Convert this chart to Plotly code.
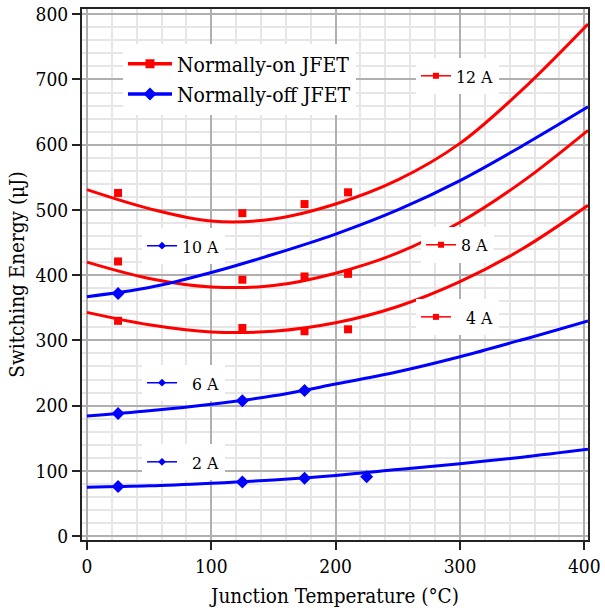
import plotly.graph_objects as go

# ---- data ----
T_fit = [0, 50, 100, 150, 200, 250, 300, 350, 403]
on_12A_fit = [531, 502, 483, 486, 509, 546, 602, 684, 785]
on_8A_fit = [420, 395, 382, 384, 403, 434, 481, 543, 622]
on_4A_fit = [343, 324, 313, 314, 327, 352, 390, 440, 507]
off_10A_fit = [367, 381, 404, 432, 463, 500, 545, 598, 658]
off_6A_fit = [184, 192, 202, 215, 233, 252, 275, 301, 330]
off_2A_fit = [75, 77, 81, 86, 93, 102, 111, 121, 133]

T_on = [25, 125, 175, 210]
on_12A = [526, 495, 509, 527]
on_8A = [421, 393, 398, 402]
on_4A = [330, 319, 314, 317]

T_off_10A = [25]
off_10A = [372]
T_off_6A = [25, 125, 175]
off_6A = [188, 207.5, 223]
T_off_2A = [25, 125, 175, 225]
off_2A = [76, 83, 88.5, 91]

RED = "#ff0000"
BLUE = "#0000ff"
FONT = "DejaVu Serif Condensed, DejaVu Serif"

fig = go.Figure()

for ys, c in [(on_12A_fit, RED), (on_8A_fit, RED), (on_4A_fit, RED),
              (off_10A_fit, BLUE), (off_6A_fit, BLUE), (off_2A_fit, BLUE)]:
    fig.add_trace(go.Scatter(x=T_fit, y=ys, mode="lines",
                             line=dict(color=c, width=3, shape="spline", smoothing=1),
                             showlegend=False, hoverinfo="skip"))

for ys in [on_12A, on_8A, on_4A]:
    fig.add_trace(go.Scatter(x=T_on, y=ys, mode="markers",
                             marker=dict(symbol="square", size=8, color=RED),
                             showlegend=False))
for xs, ys in [(T_off_10A, off_10A), (T_off_6A, off_6A), (T_off_2A, off_2A)]:
    fig.add_trace(go.Scatter(x=xs, y=ys, mode="markers",
                             marker=dict(symbol="diamond", size=10, color=BLUE),
                             showlegend=False))

fig.add_trace(go.Scatter(x=[None], y=[None], mode="lines+markers", name="Normally-on JFET",
                         line=dict(color=RED, width=3.5),
                         marker=dict(symbol="square", size=9, color=RED), legend="legend"))
fig.add_trace(go.Scatter(x=[None], y=[None], mode="lines+markers", name="Normally-off JFET",
                         line=dict(color=BLUE, width=3.5),
                         marker=dict(symbol="diamond", size=10, color=BLUE), legend="legend"))

labels = [
    ("12 A", RED, "square", "legend2"),
    ("10 A", BLUE, "diamond", "legend3"),
    ("8 A", RED, "square", "legend4"),
    ("\u00a0\u00a04 A", RED, "square", "legend5"),
    ("\u00a0\u00a06 A", BLUE, "diamond", "legend6"),
    ("\u00a0\u00a02 A", BLUE, "diamond", "legend7"),
]
for name, c, sym, lg in labels:
    fig.add_trace(go.Scatter(x=[None], y=[None], mode="lines+markers", name=name,
                             line=dict(color=c, width=1.5),
                             marker=dict(symbol=sym, size=6, color=c), legend=lg))

small = dict(bgcolor="white", borderwidth=0, xanchor="left", yanchor="middle",
             font=dict(family=FONT, size=17.5, color="black"))

fig.update_layout(
    width=605, height=608,
    margin=dict(l=82, r=17, t=9, b=68),
    paper_bgcolor="white", plot_bgcolor="white",
    font=dict(family=FONT, color="black"),
    legend=dict(x=0.081, y=0.868, xanchor="left", yanchor="middle", bgcolor="white",
                borderwidth=0, itemwidth=44,
                font=dict(family=FONT, size=21, color="black")),
    legend2=dict(small, x=0.660, y=0.874),
    legend3=dict(small, x=0.1186, y=0.554),
    legend4=dict(small, x=0.670, y=0.556),
    legend5=dict(small, x=0.660, y=0.420),
    legend6=dict(small, x=0.1186, y=0.296),
    legend7=dict(small, x=0.1186, y=0.147),
    xaxis=dict(range=[-4, 403], tick0=0, dtick=100, ticks="outside", ticklen=8, tickwidth=2,
               tickcolor="#222", showline=True, linewidth=2, linecolor="#222", mirror=True,
               showgrid=True, gridcolor="#b0b0b0", gridwidth=1.5, zeroline=False, automargin=False,
               minor=dict(tick0=0, dtick=20, showgrid=True, gridcolor="#e6e6e6", gridwidth=1.5),
               tickfont=dict(family=FONT, size=19, color="black"),
               title=dict(text="Junction Temperature (°C)", standoff=13,
                          font=dict(family=FONT, size=20.5, color="black"))),
    yaxis=dict(range=[-6, 808], tick0=0, dtick=100, ticks="outside", ticklen=8, tickwidth=2,
               tickcolor="#222", showline=True, linewidth=2, linecolor="#222", mirror=True,
               showgrid=True, gridcolor="#b0b0b0", gridwidth=1.5, zeroline=False, automargin=False,
               minor=dict(tick0=0, dtick=20, showgrid=True, gridcolor="#e6e6e6", gridwidth=1.5),
               tickfont=dict(family=FONT, size=19, color="black"),
               title=dict(text="Switching Energy (μJ)", standoff=5,
                          font=dict(family=FONT, size=20.5, color="black"))),
)

fig.write_html("out.html")
